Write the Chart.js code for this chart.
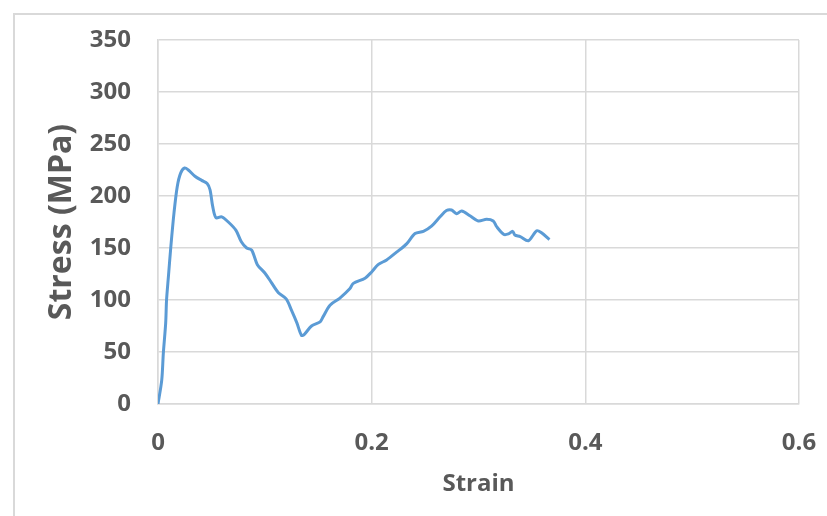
<!DOCTYPE html>
<html>
<head>
<meta charset="utf-8">
<script src="https://cdn.jsdelivr.net/npm/chart.js@4/dist/chart.umd.min.js"></script>
<style>
  html, body { margin: 0; padding: 0; background: #fff; overflow: hidden; }
  #frame {
    position: absolute; left: 13px; top: 13px;
    width: 900px; height: 600px;
    border: 2px solid #d9d9d9; box-sizing: border-box;
  }
  #stressChart { position: absolute; left: 0; top: 0; }
</style>
</head>
<body>
<div id="frame"></div>
<canvas id="stressChart" width="827" height="516"></canvas>
<script>
// strain (x) and stress in MPa (y)
const strain = [
	0, 0.0035, 0.005, 0.0072, 0.008, 0.0097, 0.012, 0.015, 0.018, 0.0212,
	0.025, 0.0284, 0.0346, 0.0409, 0.046, 0.0487, 0.0512, 0.0543, 0.0596, 0.0658,
	0.073, 0.078, 0.083, 0.0877, 0.093, 0.100, 0.106, 0.1127, 0.12, 0.125,
	0.13, 0.1343, 0.137, 0.1437, 0.1517, 0.1546, 0.161, 0.170, 0.1797, 0.1828,
	0.1938, 0.2, 0.206, 0.214, 0.2233, 0.2327, 0.2406, 0.2484, 0.256, 0.264,
	0.270, 0.2748, 0.2795, 0.2842, 0.292, 0.2998, 0.3076, 0.3138, 0.317, 0.3238,
	0.328, 0.332, 0.334, 0.339, 0.3467, 0.3545, 0.359, 0.3664
]
const stress = [
	0, 23, 49, 78, 100, 122, 151, 184, 209, 222,
	227, 225, 219, 215, 212, 206, 190, 179, 180, 175,
	167, 156, 150, 148, 134, 126, 117, 107, 101, 90,
	78, 66, 67, 75, 79, 84, 95, 101.6, 111, 116,
	121, 127, 134, 138.5, 146, 154, 164, 166, 171, 180,
	186, 186.5, 183, 185.5, 181, 176, 177.6, 176, 170.5, 163,
	163.5, 166, 162.5, 161, 157, 166.6, 164.6, 158
]
const xTicks = [0, 0.2, 0.4, 0.6]
const yTicks = [0, 50, 100, 150, 200, 250, 300, 350]

const textColor = "#595959"
const gridColor = "#d9d9d9"
const fontFamily = "'Open Sans', sans-serif"

const points = strain.map((s, i) => ({ x: s, y: stress[i] }))

const ctx = document.getElementById("stressChart").getContext("2d")
const chart = new Chart(ctx, {
	type: "line",
	data: {
		datasets: [
			{
				label: "Stress",
				data: points,
				borderColor: "#5b9bd5",
				borderWidth: 3,
				pointRadius: 0,
				tension: 0.3,
				fill: false,
			},
		],
	},
	options: {
		responsive: false,
		animation: false,
		devicePixelRatio: 1,
		layout: { padding: { top: 40, right: 28, left: 0, bottom: 0 } },
		plugins: { legend: { display: false }, tooltip: { enabled: false } },
		scales: {
			x: {
				type: "linear",
				min: xTicks[0],
				max: xTicks[xTicks.length - 1],
				afterBuildTicks: axis => { axis.ticks = xTicks.map(v => ({ value: v })) },
				afterFit: axis => {
					axis.height = 112
					axis.paddingLeft = 0
					axis.paddingRight = 0
				},
				ticks: {
					padding: 25,
					color: textColor,
					font: { family: fontFamily, size: 24, weight: "bold" },
					callback: v => String(+v.toFixed(1)),
				},
				grid: { color: gridColor, lineWidth: 1.5, drawTicks: false },
				border: { color: gridColor, width: 1.5 },
				title: {
					display: true,
					text: "Strain",
					color: textColor,
					font: { family: fontFamily, size: 24, weight: "bold" },
					padding: { top: 0, bottom: 17 },
				},
			},
			y: {
				min: yTicks[0],
				max: yTicks[yTicks.length - 1],
				afterBuildTicks: axis => { axis.ticks = yTicks.map(v => ({ value: v })) },
				afterFit: axis => {
					axis.width = 158
					axis.paddingTop = 0
					axis.paddingBottom = 0
				},
				ticks: {
					padding: 27,
					color: textColor,
					font: { family: fontFamily, size: 24, weight: "bold" },
				},
				grid: { color: gridColor, lineWidth: 1.5, drawTicks: false },
				border: { color: gridColor, width: 1.5 },
				title: {
					display: true,
					text: "Stress (MPa)",
					color: textColor,
					font: { family: fontFamily, size: 32, weight: "bold" },
					padding: { top: 43, bottom: 0 },
				},
			},
		},
	},
})
</script>
</body>
</html>
